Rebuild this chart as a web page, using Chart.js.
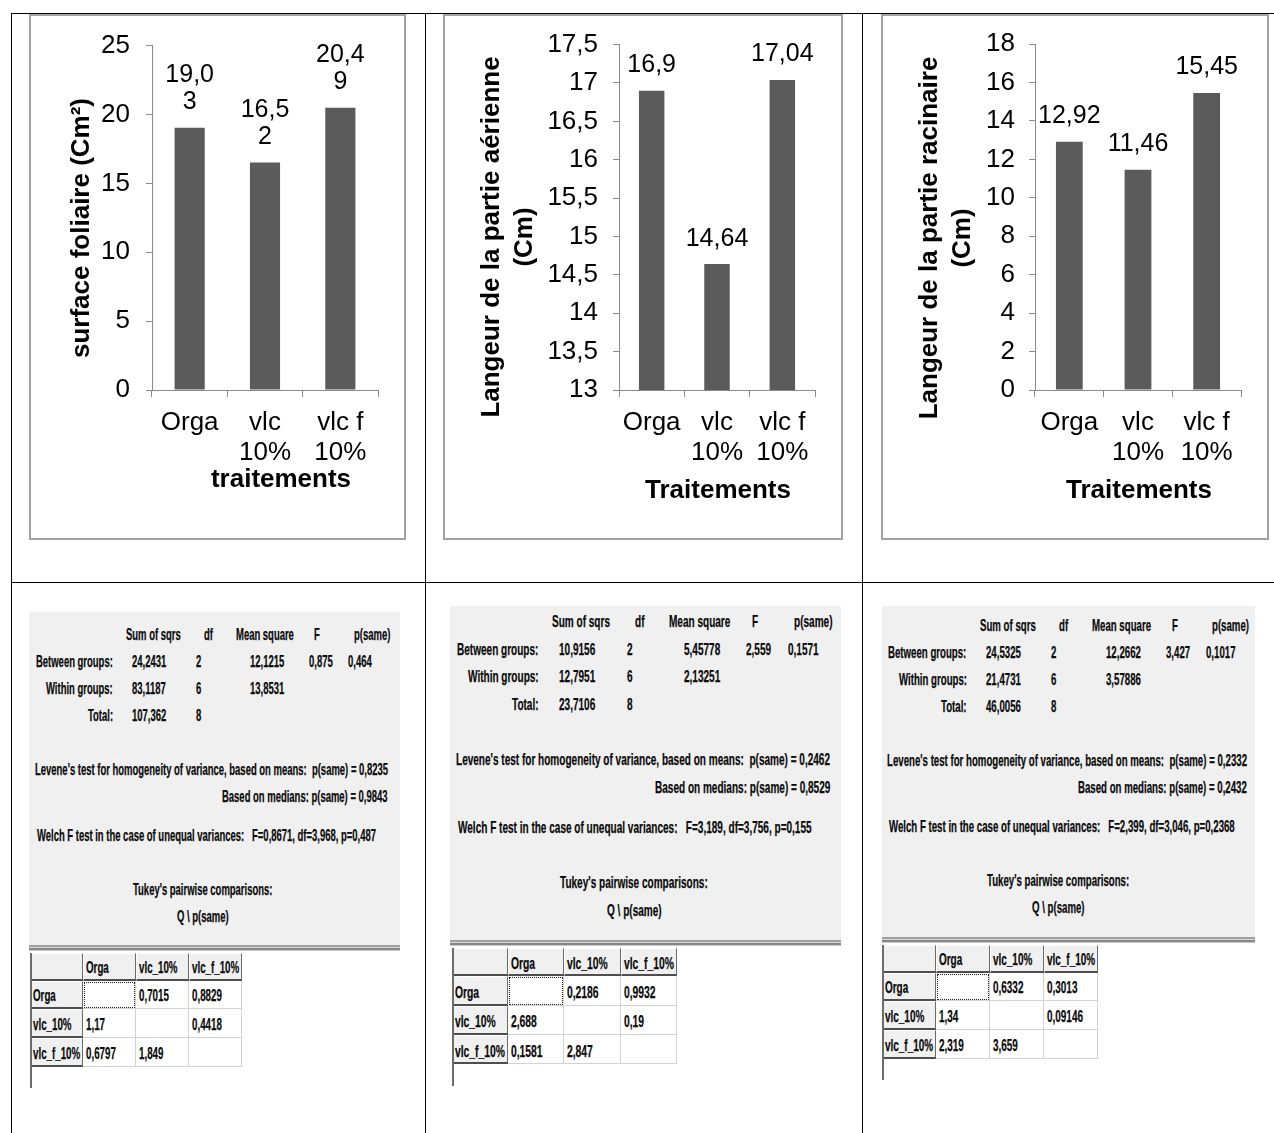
<!DOCTYPE html>
<html>
<head>
<meta charset="utf-8">
<title>Traitements</title>
<script src="https://cdn.jsdelivr.net/npm/chart.js@4.4.1/dist/chart.umd.min.js"></script>
<style>
  html, body { margin: 0; padding: 0; background: #fff; }
  body { width: 1274px; height: 1133px; position: relative; overflow: hidden;
         font-family: "Liberation Sans", Arial, Helvetica, sans-serif; }
  .rule { position: absolute; background: #000; }
  .frame { position: absolute; box-sizing: border-box; border: 2px solid #a2a2a2; }
  canvas { position: absolute; }
  .box { position: absolute; box-sizing: border-box; }
  .txt { position: absolute; white-space: pre; color: #0a0a0a; -webkit-text-stroke: 0.25px #0a0a0a; }
  .sep { background: linear-gradient(#a0a0a0 0 2px, #d8d8d8 2px 3px, #878787 3px 5px, #c8c8c8 5px 6px); }
  .hcell { background: #f0f0f0; border-top: 1px solid #fff; border-left: 1px solid #fff;
           border-right: 1px solid #6a6a6a; border-bottom: 2px solid #4e4e4e; }
  .dcell { background: #fff; border-right: 1px solid #d2d2d2; border-bottom: 1px solid #d2d2d2; }
  .focus { outline: 1px dotted #222; outline-offset: -2px; }
</style>
</head>
<body>
<script>
// ---------- chart data ----------
const treatments = ["Orga", ["vlc", "10%"], ["vlc f", "10%"]];

const surfaceFoliaire = [19.03, 16.52, 20.49];
const langeurAerienne = [16.9, 14.64, 17.04];
const langeurRacinaire = [12.92, 11.46, 15.45];

const ticksSurface = [0, 5, 10, 15, 20, 25];
const ticksAerienne = [13, 13.5, 14, 14.5, 15, 15.5, 16, 16.5, 17, 17.5];
const ticksRacinaire = [0, 2, 4, 6, 8, 10, 12, 14, 16, 18];

// ---------- one-way ANOVA output (PAST) ----------
const anovaHeader = ["Sum of sqrs", "df", "Mean square", "F", "p(same)"];
const anovaRows = ["Between groups:", "Within groups:", "Total:"];
const tukeyGroups = ["Orga", "vlc_10%", "vlc_f_10%"];

const anovaSurface = [["24,2431", "2", "12,1215", "0,875", "0,464"], ["83,1187", "6", "13,8531"], ["107,362", "8"]];
const leveneSurface = ["0,8235", "0,9843"];
const welchSurface = "F=0,8671, df=3,968, p=0,487";
const tukeySurface = [[null, "0,7015", "0,8829"], ["1,17", null, "0,4418"], ["0,6797", "1,849", null]];

const anovaAerienne = [["10,9156", "2", "5,45778", "2,559", "0,1571"], ["12,7951", "6", "2,13251"], ["23,7106", "8"]];
const leveneAerienne = ["0,2462", "0,8529"];
const welchAerienne = "F=3,189, df=3,756, p=0,155";
const tukeyAerienne = [[null, "0,2186", "0,9932"], ["2,688", null, "0,19"], ["0,1581", "2,847", null]];

const anovaRacinaire = [["24,5325", "2", "12,2662", "3,427", "0,1017"], ["21,4731", "6", "3,57886"], ["46,0056", "8"]];
const leveneRacinaire = ["0,2332", "0,2432"];
const welchRacinaire = "F=2,399, df=3,046, p=0,2368";
const tukeyRacinaire = [[null, "0,6332", "0,3013"], ["1,34", null, "0,09146"], ["2,319", "3,659", null]];

// ---------- styling ----------
const SANS = '"Liberation Sans", Arial, Helvetica, sans-serif';
const BAR_COLOR = '#5b5b5b';
const AXIS_COLOR = '#8a8a8a';
Chart.defaults.font.family = SANS;
Chart.defaults.color = '#000';

const toComma = v => String(v).replace('.', ',');
function wrapChars(str, n) {
  if (!n) return [str];
  const out = [];
  for (let i = 0; i < str.length; i += n) out.push(str.slice(i, i + n));
  return out;
}

// value printed above each bar (optionally wrapped like a narrow text box)
const barValueLabels = {
  id: 'barValueLabels',
  afterDatasetsDraw(chart, args, opts) {
    const ctx = chart.ctx;
    const values = chart.data.datasets[0].data;
    const meta = chart.getDatasetMeta(0);
    ctx.save();
    ctx.font = opts.size + 'px ' + SANS;
    ctx.fillStyle = '#000';
    ctx.textAlign = 'center';
    ctx.textBaseline = 'middle';
    meta.data.forEach((bar, i) => {
      const lines = wrapChars(toComma(values[i]), opts.wrap);
      lines.forEach((line, j) => {
        const y = bar.y - opts.offset - (lines.length - 1 - j) * opts.lineHeight;
        ctx.fillText(line, bar.x, y);
      });
    });
    ctx.restore();
  }
};

// bold axis titles
const axisTitles = {
  id: 'axisTitles',
  afterDraw(chart, args, opts) {
    const ctx = chart.ctx;
    ctx.save();
    ctx.font = 'bold ' + opts.size + 'px ' + SANS;
    ctx.fillStyle = '#000';
    ctx.textAlign = 'center';
    ctx.textBaseline = 'middle';
    ctx.save();
    ctx.translate(opts.yX, opts.yY);
    ctx.rotate(-Math.PI / 2);
    opts.yLines.forEach((line, i) => ctx.fillText(line, 0, i * opts.yLineHeight));
    ctx.restore();
    ctx.fillText(opts.xText, opts.xX, opts.xY);
    ctx.restore();
  }
};

const chartSpecs = [
  { values: surfaceFoliaire, ticks: ticksSurface, wrap: 4,
    yTitle: ['surface foliaire (Cm²)'], xTitle: 'traitements',
    frame: { left: 29, top: 14, right: 406, bottom: 540 },
    plot: { left: 152, right: 378, top: 44, bottom: 390 },
    yTitlePos: { x: 82, y: 228 }, xTitlePos: { x: 281, y: 480 },
    tickPad: 16, barPct: 0.4 },
  { values: langeurAerienne, ticks: ticksAerienne, wrap: 0,
    yTitle: ['Langeur de la partie aérienne', '(Cm)'], xTitle: 'Traitements',
    frame: { left: 443, top: 14, right: 843, bottom: 540 },
    plot: { left: 619, right: 815, top: 44, bottom: 390 },
    yTitlePos: { x: 492, y: 237 }, xTitlePos: { x: 718, y: 491 },
    tickPad: 15, barPct: 0.39 },
  { values: langeurRacinaire, ticks: ticksRacinaire, wrap: 0,
    yTitle: ['Langeur de la partie racinaire', '(Cm)'], xTitle: 'Traitements',
    frame: { left: 881, top: 14, right: 1269, bottom: 540 },
    plot: { left: 1035, right: 1241, top: 44, bottom: 390 },
    yTitlePos: { x: 930, y: 238 }, xTitlePos: { x: 1139, y: 491 },
    tickPad: 14, barPct: 0.39 }
];

function addBox(cls, left, top, width, height, bg) {
  const d = document.createElement('div');
  d.className = cls;
  d.style.left = left + 'px';
  d.style.top = top + 'px';
  d.style.width = width + 'px';
  d.style.height = height + 'px';
  if (bg) d.style.background = bg;
  document.body.appendChild(d);
  return d;
}

chartSpecs.forEach(spec => {
  const f = spec.frame, p = spec.plot;
  const w = f.right - f.left, h = f.bottom - f.top;
  addBox('frame', f.left, f.top, w, h);
  const cv = document.createElement('canvas');
  cv.width = w; cv.height = h;
  cv.style.left = f.left + 'px';
  cv.style.top = f.top + 'px';
  document.body.appendChild(cv);

  new Chart(cv, {
    type: 'bar',
    data: {
      labels: treatments,
      datasets: [{ data: spec.values, backgroundColor: BAR_COLOR, borderWidth: 0,
                   barPercentage: spec.barPct, categoryPercentage: 1 }]
    },
    options: {
      responsive: false, animation: false, devicePixelRatio: 1,
      layout: { padding: { left: 0, top: p.top - f.top, right: f.right - p.right, bottom: 0 } },
      plugins: {
        legend: { display: false }, tooltip: { enabled: false },
        barValueLabels: { size: 25, wrap: spec.wrap, offset: 25.5, lineHeight: 27 },
        axisTitles: { size: 26, yLines: spec.yTitle, yLineHeight: 33,
                      yX: spec.yTitlePos.x - f.left, yY: spec.yTitlePos.y - f.top,
                      xText: spec.xTitle, xX: spec.xTitlePos.x - f.left, xY: spec.xTitlePos.y - f.top }
      },
      scales: {
        x: {
          offset: true,
          grid: { display: true, offset: true, drawOnChartArea: false, drawTicks: true, tickLength: 7, color: AXIS_COLOR },
          border: { display: true, color: AXIS_COLOR, width: 1 },
          ticks: { font: { size: 26, lineHeight: 30 / 26 }, color: '#000', padding: 11, maxRotation: 0, minRotation: 0, autoSkip: false },
          afterFit: s => { s.height = f.bottom - p.bottom; }
        },
        y: {
          min: spec.ticks[0], max: spec.ticks[spec.ticks.length - 1],
          grid: { drawOnChartArea: false, drawTicks: true, tickLength: 6, color: AXIS_COLOR },
          border: { display: true, color: AXIS_COLOR, width: 1 },
          ticks: { font: { size: 26 }, color: '#000', padding: spec.tickPad, autoSkip: false,
                   callback: v => toComma(v) },
          afterBuildTicks: s => { s.ticks = spec.ticks.map(v => ({ value: v })); },
          afterFit: s => { s.width = p.left - f.left; }
        }
      }
    },
    plugins: [barValueLabels, axisTitles]
  });
});

// ---------- ANOVA result panels ----------
const measureCtx = document.createElement('canvas').getContext('2d');
function textWidth(str, font) { measureCtx.font = font; return measureCtx.measureText(str).width; }

function putText(str, x, y, align, size, squeeze) {
  const font = 'bold ' + size + 'px ' + SANS;
  const w = textWidth(str, font) * squeeze;
  let left = x;
  if (align === 'right') left = x - w;
  else if (align === 'center') left = x - w / 2;
  const lh = Math.round(size * 1.2);
  const el = document.createElement('div');
  el.className = 'txt';
  el.textContent = str;
  el.style.font = font;
  el.style.lineHeight = lh + 'px';
  el.style.left = left + 'px';
  el.style.top = (y - lh / 2) + 'px';
  el.style.transformOrigin = '0 50%';
  el.style.transform = 'scaleX(' + squeeze + ')';
  document.body.appendChild(el);
}

const T = {
  headX: [91, 169, 201, 279, 319], labelRight: 78, valX: [97, 161, 215, 274, 313],
  rowDy: 27, leveneDy: 135, mediansDy: 162, welchDy: 201, welchX: 2,
  tukeyDy: 255, qDy: 282, centerX: 168, rightX: 353,
  font: 16.5, cellFont: 17, colW: 53, headH: 27.5, rowH: 28.7, tail: 21
};

const statPanels = [
  { anova: anovaSurface, levene: leveneSurface, welch: welchSurface, tukey: tukeySurface,
    box: { left: 29, top: 612, right: 400, bottom: 945 }, x0: 35, y0: 634, sx: 1, sy: 1, span: 353,
    table: { left: 30, top: 953 } },
  { anova: anovaAerienne, levene: leveneAerienne, welch: welchAerienne, tukey: tukeyAerienne,
    box: { left: 450, top: 606, right: 841, bottom: 940 }, x0: 456, y0: 622, sx: 1.06, sy: 1.025, span: 374,
    table: { left: 452, top: 948 } },
  { anova: anovaRacinaire, levene: leveneRacinaire, welch: welchRacinaire, tukey: tukeyRacinaire,
    box: { left: 882, top: 606, right: 1255, bottom: 937 }, x0: 887, y0: 625, sx: 1.02, sy: 1.0, span: 360,
    table: { left: 882, top: 945 } }
];

statPanels.forEach(sp => {
  const b = sp.box;
  addBox('box', b.left, b.top, b.right - b.left, b.bottom - b.top, '#f0f0f0');
  addBox('box sep', b.left, b.bottom, b.right - b.left, 6);

  const size = T.font * sp.sy;
  const leveneText = "Levene's test for homogeneity of variance, based on means:  p(same) = " + sp.levene[0];
  const squeeze = sp.span / textWidth(leveneText, 'bold ' + size + 'px ' + SANS);
  const X = dx => sp.x0 + dx * sp.sx;
  const Y = dy => sp.y0 + dy * sp.sy;

  anovaHeader.forEach((h, i) => putText(h, X(T.headX[i]), Y(0), 'left', size, squeeze));
  anovaRows.forEach((r, j) => {
    const y = Y((j + 1) * T.rowDy);
    putText(r, X(T.labelRight), y, 'right', size, squeeze);
    sp.anova[j].forEach((v, i) => putText(v, X(T.valX[i]), y, 'left', size, squeeze));
  });
  putText(leveneText, X(0), Y(T.leveneDy), 'left', size, squeeze);
  putText('Based on medians: p(same) = ' + sp.levene[1], X(T.rightX), Y(T.mediansDy), 'right', size, squeeze);
  putText('Welch F test in the case of unequal variances:   ' + sp.welch, X(T.welchX), Y(T.welchDy), 'left', size, squeeze);
  putText("Tukey's pairwise comparisons:", X(T.centerX), Y(T.tukeyDy), 'center', size, squeeze);
  putText('Q \\ p(same)', X(T.centerX), Y(T.qDy), 'center', size, squeeze);

  // Tukey Q / p matrix
  const cw = T.colW * sp.sx, hh = T.headH * sp.sy, rh = T.rowH * sp.sy;
  const tl = sp.table.left, tt = sp.table.top;
  const cellSize = T.cellFont * sp.sy;
  for (let r = 0; r < 4; r++) {
    for (let c = 0; c < 4; c++) {
      const x = tl + c * cw;
      const y = r === 0 ? tt : tt + hh + (r - 1) * rh;
      const h = r === 0 ? hh : rh;
      let cls = (r === 0 || c === 0) ? 'box hcell' : 'box dcell';
      if (r === 1 && c === 1) cls += ' focus';
      addBox(cls, x, y, cw, h);
      let text = '';
      if (r === 0 && c > 0) text = tukeyGroups[c - 1];
      else if (c === 0 && r > 0) text = tukeyGroups[r - 1];
      else if (r > 0 && c > 0) text = sp.tukey[r - 1][c - 1] || '';
      if (text) putText(text, x + 3, y + h * 0.55, 'left', cellSize, squeeze);
    }
  }
  addBox('box', tl, tt, 2, hh + 3 * rh + T.tail * sp.sy, '#6c6c6c');
});

// ---------- page table rules ----------
addBox('rule', 11, 13, 1263, 1);
addBox('rule', 11, 582, 1263, 1);
addBox('rule', 11, 13, 1, 1120);
addBox('rule', 425, 13, 1, 1120);
addBox('rule', 862, 13, 1, 1120);
</script>
</body>
</html>
